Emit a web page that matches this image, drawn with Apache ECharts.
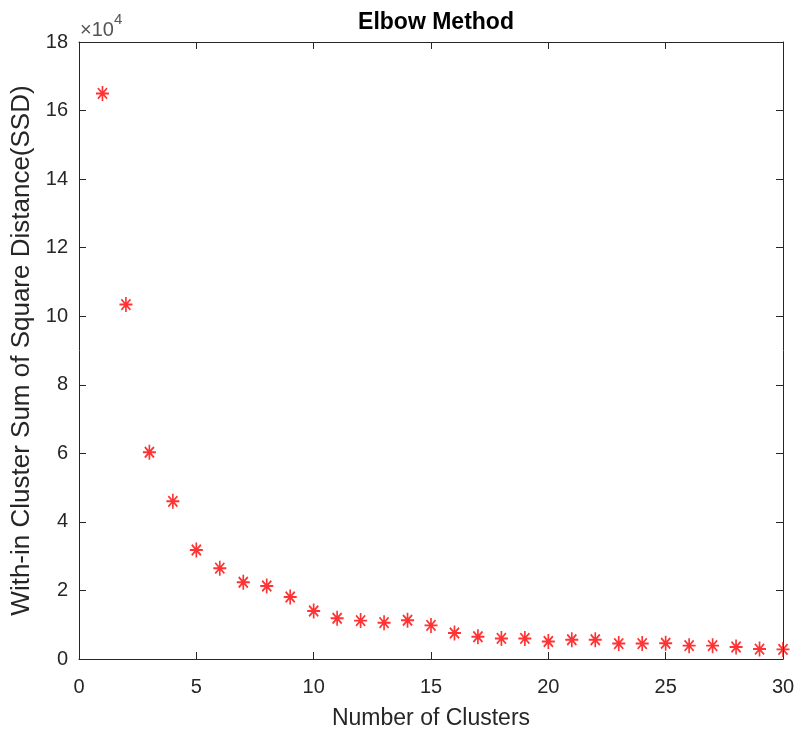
<!DOCTYPE html>
<html lang="en">
<head>
    <meta charset="UTF-8">
    <title>Elbow Method</title>
    <script src="https://cdn.jsdelivr.net/npm/echarts@6/dist/echarts.min.js"></script>
    <style>
        body { margin: 0; background: #fff; }
        #chart { width: 797px; height: 735px; }
    </style>
</head>
<body>
    <div id="chart"></div>
    <script>
        // number of clusters k and the SSD
        var clusters = [1, 2, 3, 4, 5, 6, 7, 8, 9, 10, 11, 12, 13, 14, 15,
                        16, 17, 18, 19, 20, 21, 22, 23, 24, 25, 26, 27, 28, 29, 30];
        var ssd = [165000, 103400, 60300, 46000, 31800, 26500, 22400, 21300, 18100, 14000,
                   11900, 11200, 10600, 11300, 9800, 7600, 6500, 6000, 6000, 5100,
                   5600, 5600, 4500, 4500, 4600, 3900, 3900, 3500, 2900, 2800];

        var axisColor = '#262626';
        var font = 'Liberation Sans, Arial, sans-serif';

        var chart = echarts.init(document.getElementById('chart'));

        // ticks pointing inward on all four sides, like a boxed MATLAB axes
        function boxAxis(extra) {
            var base = {
                type: 'value',
                axisLine: { onZero: false, lineStyle: { color: axisColor, width: 1 } },
                axisTick: { inside: true, length: 7, lineStyle: { color: axisColor } },
                splitLine: { show: false }
            };
            return Object.assign(base, extra);
        }

        var option = {
            animation: false,
            title: {
                text: 'Elbow Method',
                left: 431,
                textAlign: 'center',
                top: 6,
                textStyle: { fontFamily: font, fontSize: 23, fontWeight: 'bold', color: '#000' }
            },
            grid: { left: 79, right: 14, top: 42, bottom: 76, outerBoundsMode: 'none' },
            xAxis: [
                boxAxis({
                    min: 0, max: 30, interval: 5,
                    name: 'Number of Clusters',
                    nameLocation: 'middle',
                    nameGap: 48,
                    nameTextStyle: { fontFamily: font, fontSize: 23, color: axisColor },
                    axisLabel: { fontFamily: font, fontSize: 20, color: axisColor, margin: 18 }
                }),
                boxAxis({
                    position: 'top',
                    min: 0, max: 30, interval: 5,
                    axisLabel: { show: false }
                })
            ],
            yAxis: [
                boxAxis({
                    min: 0, max: 180000, interval: 20000,
                    name: 'With-in Cluster Sum of Square Distance(SSD)',
                    nameLocation: 'middle',
                    nameGap: 43,
                    nameTextStyle: { fontFamily: font, fontSize: 26, color: axisColor },
                    axisLabel: {
                        fontFamily: font, fontSize: 20, color: axisColor, margin: 11,
                        formatter: function (v) { return v / 10000; }
                    }
                }),
                boxAxis({
                    position: 'right',
                    min: 0, max: 180000, interval: 20000,
                    axisLabel: { show: false }
                })
            ],
            graphic: [{
                type: 'text',
                left: 80,
                top: 12,
                style: {
                    text: '{a|\u00d710}{b|4}',
                    rich: {
                        a: { fontFamily: font, fontSize: 20, fill: '#555', padding: [8, 0, 0, 0] },
                        b: { fontFamily: font, fontSize: 15, fill: '#555', verticalAlign: 'top' }
                    }
                }
            }],
            series: [{
                type: 'scatter',
                data: clusters.map(function (k, i) { return [k, ssd[i]]; }),
                symbol: 'path://M0,-10L0,10M-10,0L10,0M-7,-7L7,7M-7,7L7,-7',
                symbolSize: [13, 15],
                itemStyle: { color: 'none', borderColor: '#ff0000', borderWidth: 1.8 }
            }]
        };

        chart.setOption(option);
    </script>
</body>
</html>
